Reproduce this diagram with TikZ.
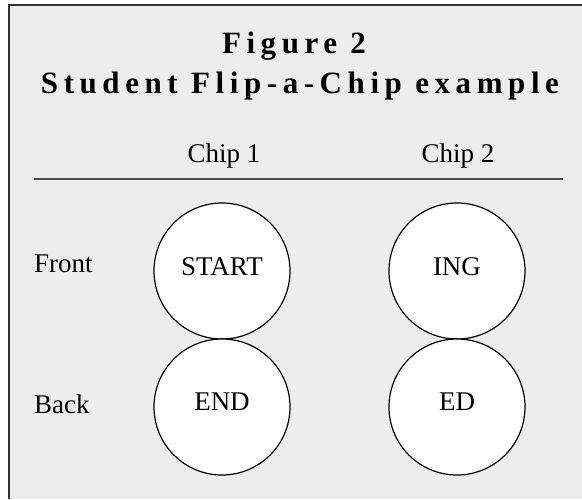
\documentclass[tikz,border=0pt]{standalone}
\usepackage{fontspec}
\setmainfont{Liberation Serif}
\newfontfamily\headfont[LetterSpace=18]{Liberation Serif}
\usetikzlibrary{positioning}

\tikzset{
	chip/.style={circle, draw=black, line width=1.2pt, fill=white, minimum size=136pt, inner sep=0pt},
	lbl/.style={anchor=base, inner sep=0pt, font=\fontsize{27}{29}\selectfont},
	head/.style={anchor=base, inner sep=0pt, font=\headfont\bfseries\fontsize{31}{33}\selectfont}
}

\begin{document}
\begin{tikzpicture}[x=1pt, y=-1pt]
		%%%%% START %%%%%
		\useasboundingbox (0, 0) rectangle (582, 499);
		
		\fill[color=black!7] (9, 5) rectangle (582, 499);
		\draw[line width=1.4pt, color=black!80] (9, 499) -- (9, 5) -- (582, 5);
		
		\node[head] (fig) at (294, 53) {Figure 2};
		\node[head] (title) at (300, 93) {Student Flip-a-Chip example};
		
		\node[lbl] (chipa) at (224, 162) {Chip 1};
		\node[lbl] (chipb) at (458, 162) {Chip 2};
		\draw[line width=1.4pt, color=black!70] (34, 179) -- (563, 179);
		
		\node[chip] (start) at (222, 271) {};
		\node[chip] (ing) at (457, 271) {};
		\node[chip] (end) at (222, 407) {};
		\node[chip] (ed) at (457, 407) {};
		
		\node[lbl, anchor=base west] (front) at (34, 272) {Front};
		\node[lbl, anchor=base west] (back) at (34, 413) {Back};
		
		\node[lbl] (startw) at (222, 275) {START};
		\node[lbl] (ingw) at (457, 275) {ING};
		\node[lbl] (endw) at (222, 410) {END};
		\node[lbl] (edw) at (457, 410) {ED};
		%%%%% END %%%%%
	\end{tikzpicture}
\end{document}
